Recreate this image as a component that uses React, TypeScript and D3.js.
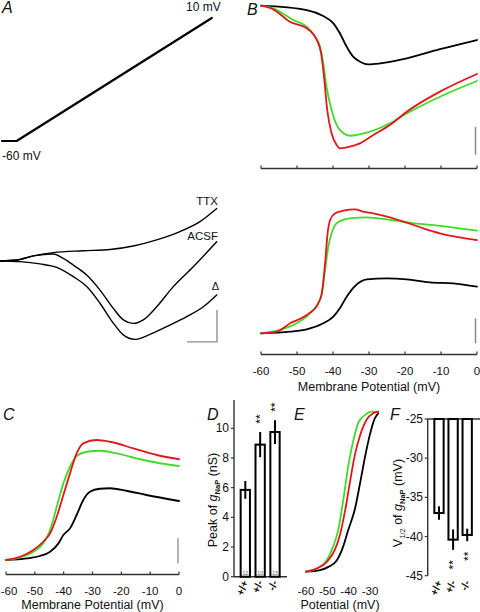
import React from 'react';
import * as d3 from 'd3';

// ---------- Panel A: ramp command ----------
const rampTime = [0, 0.2, 2.87]; // s
const rampVoltage = [-60, -60, 10]; // mV

// ---------- Panel A: current traces (time s, current pA) ----------
const ttxTime = [0, 0.223, 0.445, 0.712, 1.113, 1.47, 1.781, 2.094, 2.405, 2.673, 2.896];
const ttxCurrent = [0, 3, 16, 26, 32, 36, 47, 66, 92, 123, 164];
const acsfTime = [0, 0.223, 0.445, 0.712, 0.846, 0.98, 1.159, 1.336, 1.514, 1.648, 1.781, 1.915, 2.094, 2.316, 2.583, 2.896];
const acsfCurrent = [0, 3, 16, 22, 8, -13, -44, -91, -148, -184, -195, -184, -143, -80, -18, 60];
const deltaTime = [0, 0.267, 0.535, 0.758, 0.98, 1.159, 1.336, 1.514, 1.648, 1.804, 1.96, 2.228, 2.495, 2.717, 2.896];
const deltaCurrent = [0, -2, -9, -20, -49, -80, -132, -194, -231, -245, -234, -205, -174, -143, -106];

// ---------- Panel B top: I-V (mV, pA) ----------
const bTopBlackV = [-60, -47.3, -42.7, -39.9, -38.1, -36.2, -34.4, -32.5, -30.2, -26.9, -19.5, -10.3, 0];
const bTopBlackI = [0, -31, -74, -126, -197, -293, -364, -400, -419, -412, -376, -311, -245];
const bTopGreenV = [-60, -56.6, -51.0, -47.3, -45.0, -43.6, -42.7, -41.8, -40.4, -39.0, -37.1, -35.3, -30.6, -24.2, -19.5, -10.3, 0];
const bTopGreenI = [0, -19, -102, -150, -221, -293, -411, -579, -745, -852, -911, -929, -907, -840, -769, -650, -538];
const bTopRedV = [-60, -56.6, -52.0, -47.3, -44.5, -43.3, -42.5, -41.6, -40.4, -39.0, -38.1, -35.3, -32.5, -28.8, -24.2, -19.5, -10.3, 0];
const bTopRedI = [0, -26, -114, -161, -245, -340, -507, -745, -911, -995, -1019, -1007, -983, -924, -852, -757, -614, -488];

// ---------- Panel B bottom: g-V (mV, nS) ----------
const bBotBlackV = [-60, -51.9, -47.3, -42.7, -39.9, -38.1, -36.2, -33.9, -30.6, -25.1, -19.5, -13.1, -6.6, 0];
const bBotBlackG = [0, 0.13, 0.32, 0.8, 1.33, 2.0, 2.93, 3.78, 4.32, 4.4, 4.32, 4.08, 4.0, 3.73];
const bBotGreenV = [-60, -54.7, -50.1, -46.4, -44.1, -43.1, -42.2, -41.3, -40.4, -39.0, -37.1, -35.3, -30.6, -24.2, -19.5, -10.3, 0];
const bBotGreenG = [0, 0.27, 0.8, 1.6, 2.4, 3.2, 5.07, 6.93, 8.0, 8.8, 9.07, 9.2, 9.28, 9.07, 8.88, 8.59, 8.21];
const bBotRedV = [-60, -55.6, -51.9, -47.3, -44.1, -43.1, -42.2, -41.5, -40.8, -39.4, -37.1, -33.9, -31.6, -28.8, -24.2, -19.5, -14.9, -10.3, 0];
const bBotRedG = [0, 0.13, 0.8, 1.46, 2.4, 3.2, 5.6, 8.0, 9.06, 9.6, 9.81, 9.92, 9.73, 9.6, 9.28, 8.85, 8.4, 8.0, 7.46];

// ---------- Panel C: average g-V (mV, nS) ----------
const cBlackV = [-60, -52.8, -48.2, -44.7, -41.8, -40.1, -37.8, -35.5, -33.2, -30.9, -27.5, -24.0, -18.3, -11.3, 0];
const cBlackG = [0, 0.13, 0.32, 0.66, 1.33, 2.0, 2.53, 3.6, 4.8, 5.46, 5.7, 5.74, 5.54, 5.2, 4.72];
const cGreenV = [-60, -55.1, -50.5, -47.1, -44.7, -42.4, -40.1, -37.8, -35.5, -32.0, -27.4, -21.6, -13.5, -6.6, 0];
const cGreenG = [0, 0.21, 0.66, 1.33, 2.4, 4.26, 6.13, 7.46, 8.32, 8.66, 8.74, 8.53, 8.06, 7.74, 7.52];
const cRedV = [-60, -55.1, -50.5, -47.1, -44.7, -42.4, -40.1, -37.8, -35.5, -33.2, -28.6, -23.9, -15.8, -7.7, 0];
const cRedG = [0, 0.26, 0.8, 1.46, 2.13, 3.46, 5.2, 6.93, 8.53, 9.33, 9.6, 9.46, 8.93, 8.4, 8.06];

// ---------- Panel E: normalized activation ----------
const eGreenV = [-60, -55, -50.3, -47.2, -44.9, -42.5, -40.2, -37.8, -35.5, -32.3, -29.2, -26.1];
const eGreenN = [0, 0.02, 0.07, 0.16, 0.26, 0.45, 0.66, 0.82, 0.93, 0.98, 1, 1];
const eRedV = [-60, -55, -50.3, -46.4, -44.1, -41.7, -39.4, -37.1, -34.7, -31.6, -28.5, -26.1];
const eRedN = [0, 0.02, 0.06, 0.14, 0.23, 0.38, 0.56, 0.73, 0.85, 0.95, 0.99, 1];
const eBlackV = [-60, -53.4, -49.5, -45.6, -42.5, -40.2, -37.1, -34.7, -32.3, -30.0, -27.7, -26.1];
const eBlackN = [0, 0.01, 0.03, 0.07, 0.16, 0.26, 0.39, 0.55, 0.72, 0.86, 0.96, 0.99];

// ---------- Panels D & F: bar summaries ----------
const genotypes = ['+/+', '+/-', '-/-'];
const peakG = [5.85, 8.9, 9.75];
const peakGErr = [0.6, 0.85, 0.8];
const cellCounts = ['12', '10', '13'];
const peakSig = ['', '**', '**'];
const vHalf = [-37.0, -40.4, -39.8];
const vHalfErr = [0.85, 1.3, 0.8];
const vHalfSig = ['', '**', '**'];

const mvTicks = [-60, -50, -40, -30, -20, -10, 0];
const eTicks = [-60, -50, -40, -30];
const dTicks = [0, 2, 4, 6, 8, 10];
const fTicks = [-25, -30, -35, -40, -45];

const RED = '#e3161c';
const GREEN = '#3fdc2a';
const FONT = 'Liberation Sans, Arial, Helvetica, sans-serif';
const AXIS = '#333';
const BAR_GRAY = '#8a8a8a';

const zip = (xs: number[], ys: number[]) => xs.map((x, i) => [x, ys[i]] as [number, number]);

export default function App() {
  // scales
  const xAtop = d3.scaleLinear().domain([0, 2.9]).range([2, 214]);
  const yAtop = d3.scaleLinear().domain([-60, 10]).range([141, 18]);
  const xAbot = d3.scaleLinear().domain([0, 2.9]).range([0, 217]);
  const yAbot = d3.scaleLinear().domain([0, -100]).range([261, 293]);

  const xB = d3.scaleLinear().domain([-60, 0]).range([261, 477]);
  const yBtop = d3.scaleLinear().domain([0, -1000]).range([5.7, 145.7]);
  const yBbot = d3.scaleLinear().domain([0, 10]).range([333.3, 208.3]);

  const xC = d3.scaleLinear().domain([-60, 0]).range([6, 179]);
  const yC = d3.scaleLinear().domain([0, 10]).range([560, 435]);

  const xE = d3.scaleLinear().domain([-60, -30]).range([306, 370]);
  const yE = d3.scaleLinear().domain([0, 1]).range([571.7, 411.7]);

  const yD = d3.scaleLinear().domain([0, 10]).range([576.7, 428.3]);
  const xD = d3.scalePoint<string>().domain(genotypes).range([245.3, 275]);
  const yF = d3.scaleLinear().domain([-45, -25]).range([575.7, 419]);
  const xF = d3.scalePoint<string>().domain(genotypes).range([439, 467.2]);
  const barW = 9.3;

  const mk = (xs: d3.ScaleLinear<number, number>, ys: d3.ScaleLinear<number, number>, curve = d3.curveMonotoneX) =>
    d3.line<[number, number]>().x(d => xs(d[0])).y(d => ys(d[1])).curve(curve);

  const lineAtop = mk(xAtop, yAtop, d3.curveLinear);
  const lineAbot = mk(xAbot, yAbot);
  const lineBtop = mk(xB, yBtop);
  const lineBbot = mk(xB, yBbot);
  const lineC = mk(xC, yC);
  const lineE = mk(xE, yE);

  const curve = (d: string | null, color: string, w = 1.8) => (
    <path d={d || ''} fill="none" stroke={color} strokeWidth={w} strokeLinejoin="round" strokeLinecap="round" />
  );

  const mvAxis = (y: number, xs: d3.ScaleLinear<number, number>, labels: boolean, minX = 0) => (
    <g>
      <line x1={xs(-60)} x2={xs(0)} y1={y} y2={y} stroke={AXIS} strokeWidth={1.4} />
      {mvTicks.map(t => (
        <g key={t}>
          <line x1={xs(t)} x2={xs(t)} y1={y} y2={y - 3} stroke={AXIS} strokeWidth={1.2} />
          {labels && (
            <text x={Math.max(xs(t), minX)} y={y + 20.5} textAnchor="middle" fontSize={11.5} fontFamily={FONT} fill="#111">{t}</text>
          )}
        </g>
      ))}
    </g>
  );

  const panelLetter = (x: number, y: number, s: string) => (
    <text x={x} y={y} fontSize={16} fontStyle="italic" fontFamily={FONT} fill="#111">{s}</text>
  );

  const genoLabel = (cx: number, top: number, s: string) => (
    <text
      key={s}
      transform={`translate(${cx + 3},${top}) rotate(-70)`}
      textAnchor="end"
      fontSize={10.5}
      fontWeight="bold"
      fontFamily={FONT}
      fill="#111"
    >{s}</text>
  );

  // significance marks: "**" turned upright so the asterisks stack vertically
  const sigLabel = (cx: number, cy: number, s: string, key: string) => s ? (
    <text
      key={key}
      transform={`translate(${cx + 4.3},${cy}) rotate(-90)`}
      textAnchor="middle"
      fontSize={12}
      fontFamily={FONT}
      fill="#000"
      style={{ textRendering: 'geometricPrecision' }}
    >{s}</text>
  ) : null;

  return (
    <svg width={480} height={612} viewBox="0 0 480 612" style={{ position: 'absolute', left: 0, top: 0, background: '#fff' }}>
      <rect x={0} y={0} width={480} height={612} fill="#fff" />

      {/* ---------------- Panel A ---------------- */}
      {panelLetter(2, 13, 'A')}
      {curve(lineAtop(zip(rampTime, rampVoltage)), '#000', 2.2)}
      <text x={186} y={10.5} fontSize={12} fontFamily={FONT} fill="#111">10 mV</text>
      <text x={2} y={160} fontSize={12} fontFamily={FONT} fill="#111">-60 mV</text>

      {curve(lineAbot(zip(ttxTime, ttxCurrent)), '#000', 1.4)}
      {curve(lineAbot(zip(acsfTime, acsfCurrent)), '#000', 1.4)}
      {curve(lineAbot(zip(deltaTime, deltaCurrent)), '#000', 1.4)}
      <text x={218} y={205} textAnchor="end" fontSize={11.5} fontFamily={FONT} fill="#111">TTX</text>
      <text x={218} y={240} textAnchor="end" fontSize={11.5} fontFamily={FONT} fill="#111">ACSF</text>
      <text x={219} y={290} textAnchor="end" fontSize={11} fontFamily={FONT} fill="#111">Δ</text>
      {/* scale bar: 100 pA, 0.4 s */}
      <path
        d={`M${xAbot(2.9)},${yAbot(-153)} L${xAbot(2.9)},${yAbot(-253)} L${xAbot(2.5)},${yAbot(-253)}`}
        fill="none" stroke={BAR_GRAY} strokeWidth={1.3}
      />

      {/* ---------------- Panel B ---------------- */}
      {panelLetter(247, 15, 'B')}
      {curve(lineBtop(zip(bTopBlackV, bTopBlackI)), '#000')}
      {curve(lineBtop(zip(bTopGreenV, bTopGreenI)), GREEN)}
      {curve(lineBtop(zip(bTopRedV, bTopRedI)), RED)}
      <line x1={475.5} x2={475.5} y1={yBtop(-865)} y2={yBtop(-1065)} stroke={BAR_GRAY} strokeWidth={1.5} />
      {mvAxis(168.5, xB, false)}

      {curve(lineBbot(zip(bBotBlackV, bBotBlackG)), '#000')}
      {curve(lineBbot(zip(bBotGreenV, bBotGreenG)), GREEN)}
      {curve(lineBbot(zip(bBotRedV, bBotRedG)), RED)}
      <line x1={475.5} x2={475.5} y1={yBbot(1.2)} y2={yBbot(-0.8)} stroke={BAR_GRAY} strokeWidth={1.5} />
      {mvAxis(354.5, xB, true)}
      <text x={369} y={391} textAnchor="middle" fontSize={12.5} fontFamily={FONT} fill="#111">Membrane Potential (mV)</text>

      {/* ---------------- Panel C ---------------- */}
      {panelLetter(3, 420, 'C')}
      {curve(lineC(zip(cBlackV, cBlackG)), '#000')}
      {curve(lineC(zip(cGreenV, cGreenG)), GREEN)}
      {curve(lineC(zip(cRedV, cRedG)), RED)}
      <line x1={178} x2={178} y1={yC(1.75)} y2={yC(-0.25)} stroke={BAR_GRAY} strokeWidth={1.3} />
      {mvAxis(574.5, xC, true, 9)}
      <text x={92.5} y={609} textAnchor="middle" fontSize={12.5} fontFamily={FONT} fill="#111">Membrane Potential (mV)</text>

      {/* ---------------- Panel D ---------------- */}
      {panelLetter(207, 420, 'D')}
      <line x1={234} x2={234} y1={400} y2={yD(0)} stroke={AXIS} strokeWidth={1.4} />
      <line x1={234} x2={287} y1={yD(0)} y2={yD(0)} stroke={AXIS} strokeWidth={1.4} />
      {dTicks.map(t => (
        <g key={t}>
          <line x1={231} x2={234} y1={yD(t)} y2={yD(t)} stroke={AXIS} strokeWidth={1.2} />
          <text x={229} y={yD(t)} textAnchor="end" dominantBaseline="central" fontSize={12} fontFamily={FONT} fill="#111">{t}</text>
        </g>
      ))}
      {genotypes.map((g, i) => {
        const cx = xD(g) as number;
        return (
          <g key={g}>
            <rect x={cx - barW / 2} y={yD(peakG[i])} width={barW} height={yD(0) - yD(peakG[i])} fill="#fff" stroke="#000" strokeWidth={2} />
            <line x1={cx} x2={cx} y1={yD(peakG[i] + peakGErr[i])} y2={yD(peakG[i] - peakGErr[i])} stroke="#000" strokeWidth={2} />
            <text x={cx} y={574.5} textAnchor="middle" fontSize={5} fontFamily={FONT} fill="#555">{cellCounts[i]}</text>
            {sigLabel(cx, yD(peakG[i] + peakGErr[i]) - 13, peakSig[i], 's' + g)}
            {genoLabel(cx, 582, g)}
          </g>
        );
      })}
      <text transform="translate(217,500) rotate(-90)" textAnchor="middle" fontSize={12.5} fontFamily={FONT} fill="#111">
        Peak of <tspan fontStyle="italic">g</tspan><tspan fontSize={7.5} fontWeight="bold" dy={3}>NaP</tspan><tspan dy={-3}> (nS)</tspan>
      </text>

      {/* ---------------- Panel E ---------------- */}
      {panelLetter(294, 420, 'E')}
      {curve(lineE(zip(eBlackV, eBlackN)), '#000')}
      {curve(lineE(zip(eGreenV, eGreenN)), GREEN)}
      {curve(lineE(zip(eRedV, eRedN)), RED)}
      {eTicks.map(t => (
        <text key={t} x={xE(t)} y={595} textAnchor="middle" fontSize={11.5} fontFamily={FONT} fill="#111">{t}</text>
      ))}
      <text x={340} y={609} textAnchor="middle" fontSize={12.5} fontFamily={FONT} fill="#111">Potential (mV)</text>

      {/* ---------------- Panel F ---------------- */}
      {panelLetter(390, 420, 'F')}
      <line x1={427.7} x2={427.7} y1={yF(-25)} y2={yF(-45)} stroke={AXIS} strokeWidth={1.4} />
      <line x1={427.7} x2={480} y1={yF(-25)} y2={yF(-25)} stroke={AXIS} strokeWidth={1.4} />
      {fTicks.map(t => (
        <g key={t}>
          <line x1={424.7} x2={427.7} y1={yF(t)} y2={yF(t)} stroke={AXIS} strokeWidth={1.2} />
          <text x={423} y={yF(t)} textAnchor="end" dominantBaseline="central" fontSize={12} fontFamily={FONT} fill="#111">{t}</text>
        </g>
      ))}
      {genotypes.map((g, i) => {
        const cx = xF(g) as number;
        return (
          <g key={g}>
            <rect x={cx - barW / 2} y={yF(-25)} width={barW} height={yF(vHalf[i]) - yF(-25)} fill="#fff" stroke="#000" strokeWidth={2} />
            <line x1={cx} x2={cx} y1={yF(vHalf[i] + vHalfErr[i])} y2={yF(vHalf[i] - vHalfErr[i])} stroke="#000" strokeWidth={2} />
            {sigLabel(cx, yF(vHalf[i] - vHalfErr[i]) + 15, vHalfSig[i], 'f' + g)}
            {genoLabel(cx, 582, g)}
          </g>
        );
      })}
      <text transform="translate(402,503) rotate(-90)" textAnchor="middle" fontSize={12.5} fontFamily={FONT} fill="#111">
        V<tspan fontSize={7.5} dy={3}>1/2</tspan><tspan dy={-3}> of </tspan><tspan fontStyle="italic">g</tspan><tspan fontSize={7.5} fontWeight="bold" dy={3}>NaP</tspan><tspan dy={-3}> (mV)</tspan>
      </text>
    </svg>
  );
}
